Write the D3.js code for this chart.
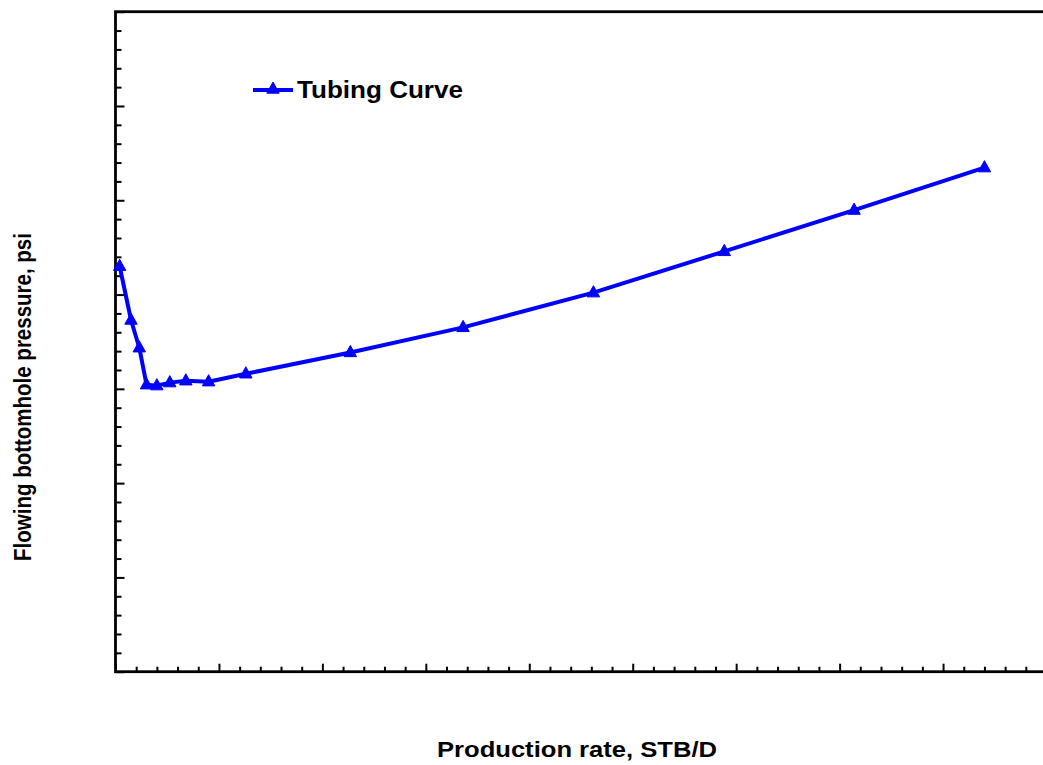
<!DOCTYPE html>
<html>
<head>
<meta charset="utf-8">
<script src="https://cdn.jsdelivr.net/npm/d3@7"></script>
<style>
  html, body { margin: 0; padding: 0; background: #fff; }
  svg { display: block; }
  text { font-family: "Liberation Sans", Arial, Helvetica, sans-serif; font-weight: bold; fill: #000; }
</style>
</head>
<body>
<svg id="chart" width="1043" height="765"></svg>
<script>
// Tubing performance curve: production rate (STB/D) vs flowing bottomhole pressure (psi)
const rates =     [40, 150, 230, 300, 400, 525, 680, 900, 1260, 2270, 3360, 4620, 5885, 7140, 8400];
const pressures = [2150, 1865, 1718, 1522, 1517, 1533, 1543, 1538, 1580, 1693, 1826, 2010, 2229, 2448, 2673];

// Tick positions (axis carries no numeric labels)
const xMajorTicks = [0, 1000, 2000, 3000, 4000, 5000, 6000, 7000, 8000, 9000];
const xMinorTicks = d3.range(0, 9001, 200).filter(v => v % 1000 !== 0);
const yMajorTicks = [0, 500, 1000, 1500, 2000, 2500, 3000, 3500];
const yMinorTicks = d3.range(0, 3501, 100).filter(v => v % 500 !== 0);

const seriesName = "Tubing Curve";
const xTitle = "Production rate, STB/D";
const yTitle = "Flowing bottomhole pressure, psi";

const svg = d3.select("#chart");
const plot = { left: 115.5, right: 1046.5, top: 11.7, bottom: 671.7 };

const x = d3.scaleLinear().domain([0, 9000]).range([plot.left, plot.right]);
const y = d3.scaleLinear().domain([0, 3500]).range([plot.bottom, plot.top]);

const blue = "#0000ff";

// Inward ticks without labels
function styleAxis(g) {
  g.select(".domain").remove();
  g.selectAll(".tick line").attr("stroke", "#000").attr("stroke-width", 2);
  g.selectAll(".tick text").remove();
}
svg.append("g").attr("transform", `translate(0,${plot.bottom})`)
  .call(d3.axisBottom(x).tickValues(xMinorTicks).tickSizeInner(-5).tickSizeOuter(0))
  .call(styleAxis);
svg.append("g").attr("transform", `translate(0,${plot.bottom})`)
  .call(d3.axisBottom(x).tickValues(xMajorTicks).tickSizeInner(-8).tickSizeOuter(0))
  .call(styleAxis);
svg.append("g").attr("transform", `translate(${plot.left},0)`)
  .call(d3.axisLeft(y).tickValues(yMinorTicks).tickSizeInner(-6).tickSizeOuter(0))
  .call(styleAxis);
svg.append("g").attr("transform", `translate(${plot.left},0)`)
  .call(d3.axisLeft(y).tickValues(yMajorTicks).tickSizeInner(-9).tickSizeOuter(0))
  .call(styleAxis);

// Plot frame
svg.append("rect")
  .attr("x", plot.left).attr("y", plot.top)
  .attr("width", plot.right - plot.left).attr("height", plot.bottom - plot.top)
  .attr("fill", "none").attr("stroke", "#000").attr("stroke-width", 2.8);

// Curve
const pts = rates.map((r, i) => [r, pressures[i]]);
const line = d3.line().x(d => x(d[0])).y(d => y(d[1]));
svg.append("path").datum(pts)
  .attr("d", line)
  .attr("fill", "none").attr("stroke", blue).attr("stroke-width", 4)
  .attr("stroke-linejoin", "round");

// Triangle markers
const tri = "M0,-7L6.2,4.2L-6.2,4.2Z";
svg.append("g").selectAll("path").data(pts).join("path")
  .attr("d", tri)
  .attr("transform", d => `translate(${x(d[0])},${y(d[1])})`)
  .attr("fill", blue).attr("stroke", blue).attr("stroke-width", 1);

// Legend
const leg = svg.append("g").attr("transform", "translate(253,90)");
leg.append("line").attr("x1", 0).attr("x2", 40).attr("y1", 0).attr("y2", 0)
  .attr("stroke", blue).attr("stroke-width", 4);
leg.append("path").attr("d", tri).attr("transform", "translate(20,-1)")
  .attr("fill", blue).attr("stroke", blue).attr("stroke-width", 1);
leg.append("text").attr("x", 44).attr("y", 7.5)
  .attr("font-size", 23).attr("textLength", 166).attr("lengthAdjust", "spacingAndGlyphs")
  .text(seriesName);

// Axis titles
svg.append("text")
  .attr("x", 577).attr("y", 757)
  .attr("text-anchor", "middle")
  .attr("font-size", 22).attr("textLength", 280).attr("lengthAdjust", "spacingAndGlyphs")
  .text(xTitle);

svg.append("text")
  .attr("transform", "translate(31,397) rotate(-90) scale(1,1.15)")
  .attr("text-anchor", "middle")
  .attr("font-size", 20.5)
  .text(yTitle);
</script>
</body>
</html>
